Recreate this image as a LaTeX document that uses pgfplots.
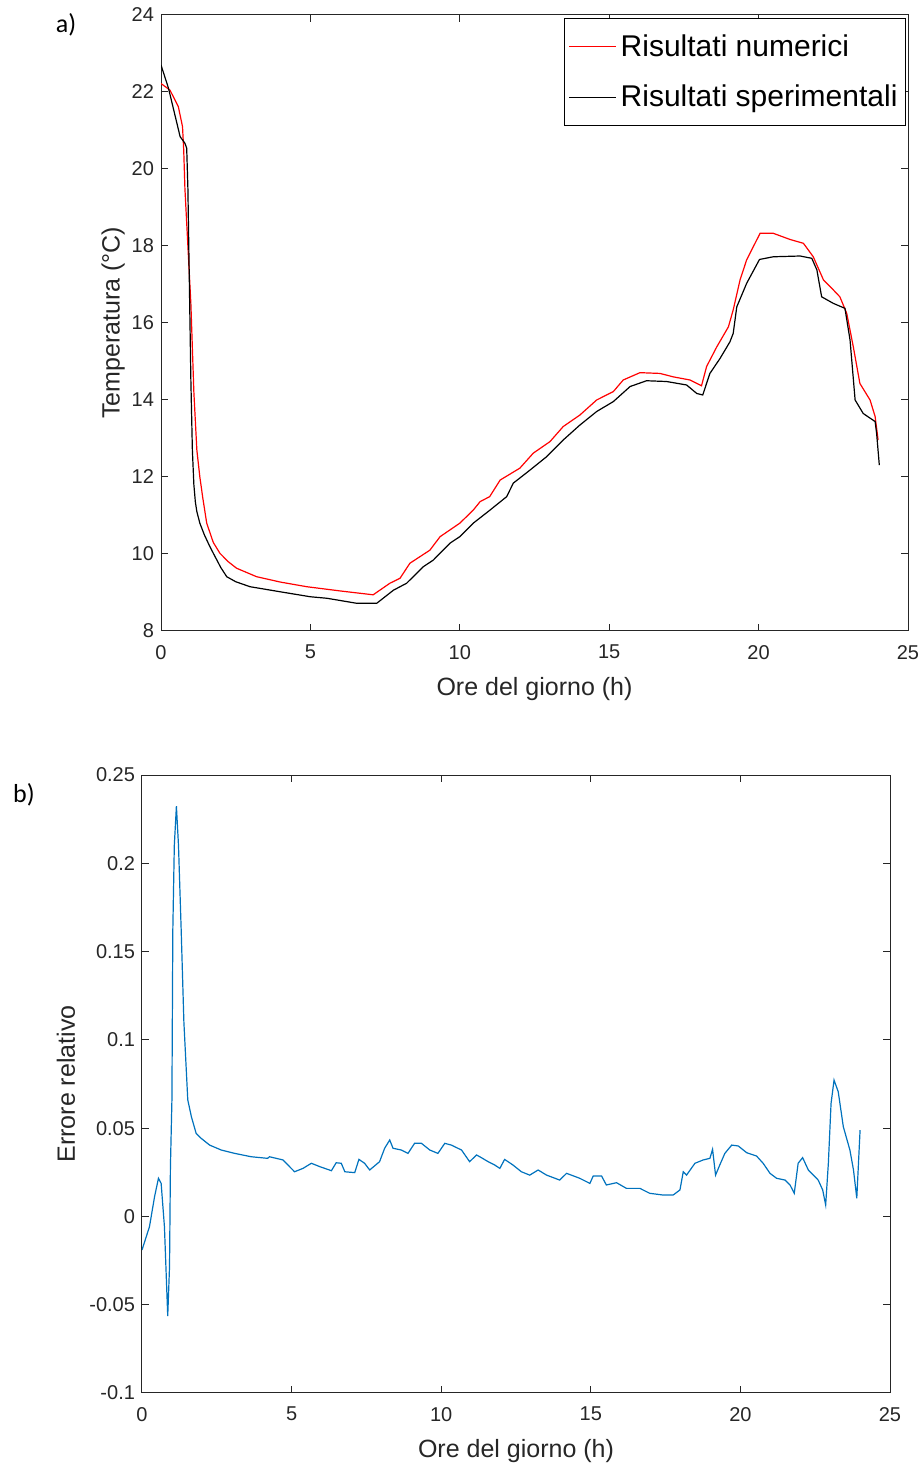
\documentclass[border=0pt]{standalone}
\usepackage{fontspec}
\setmainfont{Liberation Sans}
\newfontfamily\carlito{Carlito}
\usepackage{pgfplots}
\pgfplotsset{compat=1.18}
\definecolor{axgray}{RGB}{38,38,38}
\definecolor{mblue}{RGB}{0,114,189}
\pgfplotsset{
  mystyle/.style={
    scale only axis,
    axis line style={axgray, line width=0.5pt},
    every tick/.style={axgray, line width=0.5pt},
    major tick length=3.7pt,
    tick label style={font=\fontsize{10}{12}\selectfont, text=axgray},
    xticklabel style={yshift=-3.5pt},
    /pgf/number format/assume math mode=true,
    label style={font=\fontsize{12.5}{15}\selectfont, text=axgray},
    xtick={0,5,...,25},
    xmin=0, xmax=25,
  }
}
\begin{document}
\begin{tikzpicture}
\useasboundingbox (0,0) rectangle (462pt,731.5pt);
\node[font=\carlito\fontsize{13}{15}\selectfont] at (33pt,719pt) {a)};
\node[font=\carlito\fontsize{13}{15}\selectfont] at (12pt,334pt) {b)};
\begin{axis}[mystyle,
  at={(80.5pt,416pt)}, anchor=south west,
  width=373.5pt, height=308pt,
  ymin=8, ymax=24, ytick={8,10,...,24},
  xlabel={Ore del giorno (h)},
  ylabel={Temperatura (°C)},
  x label style={at={(axis description cs:0.5,-0.094)}, anchor=center},
  y label style={at={(axis description cs:-0.064,0.5)}, anchor=center},
  legend style={at={(rel axis cs:1,1)}, anchor=north east, xshift=-1pt, yshift=-1.5pt,
    font=\fontsize{15}{18}\selectfont, draw=black, line width=0.5pt, row sep=9pt,
    inner xsep=2pt, inner ysep=6pt},
  legend cell align=left,
  legend image code/.code={\draw[#1] (0pt,0pt) -- (23.5pt,0pt);},
]
\addplot[red, line width=0.6pt] coordinates {
(0,22.22) (0.3,22.05) (0.58,21.62) (0.72,21.1) (0.76,20.5) (0.8,19.5) (0.9,18.0) (1.0,16.5)
(1.1,14.2) (1.2,12.7) (1.3,12.0) (1.4,11.45) (1.53,10.8) (1.75,10.3) (1.97,10.02) (2.25,9.8)
(2.53,9.63) (3.2,9.41) (4.0,9.27) (4.88,9.15) (6.0,9.04) (7.1,8.94) (7.66,9.24) (8.0,9.37)
(8.33,9.76) (9.0,10.1) (9.34,10.45) (10.0,10.8) (10.45,11.14) (10.68,11.36) (11.0,11.49)
(11.35,11.92) (12.01,12.23) (12.46,12.62) (13.02,12.92) (13.46,13.31) (14.02,13.61)
(14.58,14.0) (15.14,14.22) (15.47,14.52) (16.03,14.71) (16.7,14.69) (17.15,14.6) (17.7,14.52)
(18.09,14.37) (18.26,14.87) (18.6,15.38) (18.99,15.9) (19.15,16.34) (19.38,17.12) (19.6,17.64)
(20.05,18.33) (20.49,18.33) (21.05,18.17) (21.5,18.07) (21.83,17.72) (22.17,17.12) (22.5,16.86)
(22.72,16.68) (22.95,16.25) (23.17,15.38) (23.39,14.43) (23.73,14.0) (23.9,13.57) (24.0,12.96)
};
\addlegendentry{Risultati numerici}
\addplot[black, line width=0.6pt] coordinates {
(0,22.70) (0.25,22.1) (0.64,20.84) (0.8,20.67) (0.86,20.54) (0.9,19.5) (0.95,17.0) (1.0,14.5)
(1.05,12.7) (1.1,11.8) (1.15,11.35) (1.2,11.1) (1.3,10.8) (1.45,10.5) (1.6,10.25) (1.75,10.02)
(2.0,9.65) (2.2,9.41) (2.5,9.28) (2.98,9.15) (3.98,9.02) (4.99,8.89)
(5.55,8.85) (6.55,8.72) (7.22,8.72) (7.78,9.06) (8.22,9.24) (8.78,9.67) (9.11,9.84) (9.67,10.28)
(10.0,10.45) (10.45,10.8) (11.01,11.14) (11.57,11.49) (11.79,11.84) (12.35,12.18) (12.91,12.53)
(13.46,12.96) (14.02,13.35) (14.58,13.7) (15.14,13.96) (15.7,14.35) (16.25,14.5) (16.92,14.48)
(17.59,14.39) (17.93,14.17) (18.13,14.13) (18.37,14.69) (18.71,15.08) (19.04,15.51) (19.15,15.73)
(19.27,16.42) (19.6,17.03) (20.03,17.65) (20.49,17.72) (21.39,17.74) (21.78,17.68) (21.95,17.38)
(22.11,16.68) (22.5,16.51) (22.89,16.38) (23.06,15.56) (23.23,14.0) (23.5,13.65) (23.9,13.44)
(23.95,13.13) (24.04,12.31)
};
\addlegendentry{Risultati sperimentali}
\end{axis}
\begin{axis}[mystyle,
  at={(71pt,35pt)}, anchor=south west,
  width=374pt, height=309pt,
  ymin=-0.1, ymax=0.25, ytick={-0.1,-0.05,...,0.26},
  yticklabel style={/pgf/number format/fixed},
  scaled y ticks=false,
  xlabel={Ore del giorno (h)},
  ylabel={Errore relativo},
  x label style={at={(axis description cs:0.5,-0.0936)}, anchor=center},
  y label style={at={(axis description cs:-0.1016,0.5)}, anchor=center},
]
\addplot[mblue, line width=0.6pt] coordinates {
(0,-0.019) (0.25,-0.0058) (0.42,0.0112) (0.55,0.0216) (0.64,0.0187) (0.75,-0.0058) (0.86,-0.0564)
(0.92,-0.0285) (0.95,0.028) (1.0,0.066) (1.03,0.162) (1.08,0.21) (1.15,0.2324) (1.22,0.21)
(1.31,0.162) (1.4,0.11) (1.53,0.066) (1.65,0.0565) (1.81,0.047) (1.98,0.0442) (2.26,0.0404)
(2.65,0.0376) (3.1,0.0357) (3.65,0.0338) (4.2,0.0329) (4.26,0.0338) (4.71,0.032) (5.1,0.0253)
(5.38,0.0272) (5.66,0.0301) (5.94,0.0282) (6.33,0.0259) (6.49,0.0304) (6.66,0.0301) (6.78,0.0253)
(7.11,0.0248) (7.25,0.0323) (7.44,0.0301) (7.61,0.0263) (7.94,0.031) (8.11,0.0386) (8.28,0.0433)
(8.39,0.0386) (8.67,0.0376) (8.89,0.0357) (9.11,0.0414) (9.34,0.0414) (9.62,0.0376) (9.89,0.0357)
(10.12,0.0414) (10.34,0.0404) (10.68,0.0376) (10.95,0.031) (11.18,0.0348) (11.29,0.0338)
(11.57,0.031) (11.79,0.0291) (11.96,0.0272) (12.12,0.0323) (12.4,0.0291) (12.68,0.0253)
(12.96,0.0234) (13.24,0.0263) (13.52,0.0234) (13.96,0.0206) (14.19,0.0244) (14.63,0.0216)
(14.97,0.0187) (15.08,0.0229) (15.36,0.0229) (15.52,0.0178) (15.86,0.0191) (16.19,0.0159)
(16.64,0.0159) (16.97,0.0131) (17.42,0.0121) (17.75,0.0121) (17.98,0.015) (18.09,0.0253)
(18.2,0.0234) (18.48,0.0301) (18.76,0.032) (18.98,0.0329) (19.07,0.038) (19.17,0.0234)
(19.31,0.0291) (19.48,0.0357) (19.71,0.0404) (19.93,0.0399) (20.21,0.0361) (20.54,0.0342)
(20.76,0.0301) (20.99,0.0244) (21.21,0.0216) (21.49,0.0206) (21.66,0.0178) (21.8,0.0131)
(21.93,0.0301) (22.08,0.0333) (22.27,0.0263) (22.44,0.0234) (22.6,0.0206) (22.75,0.015)
(22.85,0.0065) (22.94,0.0301) (23.03,0.064) (23.13,0.0772) (23.27,0.0706) (23.44,0.0508)
(23.66,0.0376) (23.78,0.0263) (23.89,0.0103) (24.0,0.0489)
};
\end{axis}
\end{tikzpicture}
\end{document}
